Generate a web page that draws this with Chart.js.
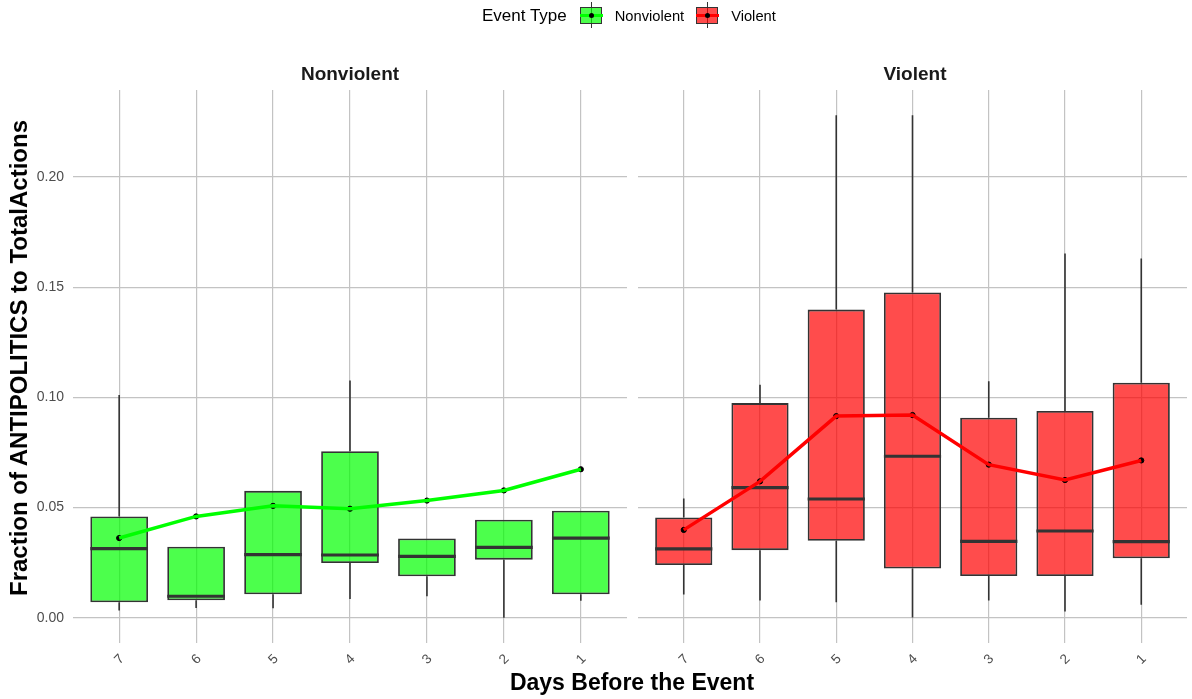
<!DOCTYPE html>
<html>
<head>
<meta charset="utf-8">
<script src="https://cdn.jsdelivr.net/npm/chart.js@4/dist/chart.umd.min.js"></script>
<style>
  html, body { margin: 0; padding: 0; background: #ffffff; }
  body { width: 1192px; height: 699px; position: relative; overflow: hidden;
         font-family: "Liberation Sans", Arial, Helvetica, sans-serif; }
  canvas { position: absolute; top: 0; }
  .txt { position: absolute; white-space: nowrap; color: #000; }
  .strip { font-weight: bold; font-size: 19px; color: #1a1a1a; transform: translate(-50%, -50%); }
  .axis-title { font-weight: bold; font-size: 23px; }
  .legend { position: absolute; top: 0; height: 32px; display: flex; align-items: center; }
  .key { position: relative; width: 23px; height: 32px; }
  .key .box { position: absolute; left: 0; top: 7px; width: 20px; height: 15px; border: 1.6px solid #333; }
  .key .whisk { position: absolute; left: 10.8px; top: 2px; width: 1.4px; height: 26px; background: #333; }
  .key .med { position: absolute; left: 1px; top: 14px; width: 21px; height: 2px; background: #333; }
  .key .mline { position: absolute; left: 0; top: 13.5px; width: 23px; height: 3.5px; }
  .key .dot { position: absolute; left: 9px; top: 12.8px; width: 5px; height: 5px; border-radius: 50%; background: #000; }
</style>
</head>
<body>
<canvas id="nv" width="640" height="699" style="left:0px"></canvas>
<canvas id="vi" width="560" height="699" style="left:632px"></canvas>

<div class="legend" style="left:482px">
  <span style="font-size:17px; margin-right:13px">Event Type</span>
  <div class="key">
    <div class="whisk"></div>
    <div class="box" style="background:rgba(0,255,0,0.7)"></div>
    <div class="med"></div>
    <div class="mline" style="background:#00ff00"></div>
    <div class="dot"></div>
  </div>
  <span style="font-size:14.7px; margin-left:12px; margin-right:12px">Nonviolent</span>
  <div class="key">
    <div class="whisk"></div>
    <div class="box" style="background:rgba(255,0,0,0.7)"></div>
    <div class="med"></div>
    <div class="mline" style="background:#ff0000"></div>
    <div class="dot"></div>
  </div>
  <span style="font-size:14.7px; margin-left:12px">Violent</span>
</div>

<div class="txt strip" style="left:350px; top:74px">Nonviolent</div>
<div class="txt strip" style="left:915px; top:74px">Violent</div>
<div class="txt axis-title" style="left:632px; top:682px; transform:translate(-50%,-50%)">Days Before the Event</div>
<div class="txt axis-title" style="left:19px; top:358px; font-size:24px; transform:translate(-50%,-50%) rotate(-90deg)">Fraction of ANTIPOLITICS to TotalActions</div>

<script>
// Days before the event, in plotting order (left to right)
const days = ['7', '6', '5', '4', '3', '2', '1'];
const dayPos = [1, 2, 3, 4, 5, 6, 7];
const yTicks = [0, 0.05, 0.10, 0.15, 0.20];

// Nonviolent events: whisker ends, quartiles, median, mean
const nvLow  = [0.0033, 0.0045, 0.0044, 0.0086, 0.0098, 0.0000, 0.0078];
const nvQ1   = [0.0071, 0.0080, 0.0107, 0.0249, 0.0189, 0.0264, 0.0107];
const nvMed  = [0.0314, 0.0098, 0.0287, 0.0285, 0.0279, 0.0320, 0.0362];
const nvQ3   = [0.0460, 0.0323, 0.0576, 0.0756, 0.0360, 0.0445, 0.0486];
const nvHigh = [0.1011, 0.0323, 0.0576, 0.1076, 0.0360, 0.0445, 0.0486];
const nvMean = [0.0362, 0.0460, 0.0508, 0.0495, 0.0532, 0.0578, 0.0674];

// Violent events
const vLow  = [0.0106, 0.0079, 0.0071, 0.0002, 0.0079, 0.0029, 0.0060];
const vQ1   = [0.0240, 0.0307, 0.0350, 0.0224, 0.0190, 0.0190, 0.0270];
const vMed  = [0.0313, 0.0591, 0.0539, 0.0733, 0.0347, 0.0394, 0.0346];
const vQ3   = [0.0455, 0.0974, 0.1398, 0.1476, 0.0908, 0.0938, 0.1066];
const vHigh = [0.0541, 0.1057, 0.2280, 0.2280, 0.1073, 0.1653, 0.1630];
const vMean = [0.0399, 0.0619, 0.0915, 0.0920, 0.0695, 0.0625, 0.0714];

const GRID = '#c3c3c3';
const OUTLINE = '#333333';
const Y_MIN = -0.0114, Y_MAX = 0.2394;

// Whiskers are drawn under the boxes, medians on top of them
const boxExtras = {
  id: 'boxExtras',
  beforeDatasetDraw(chart, args, opts) {
    if (args.index !== 0) return;
    const ctx = chart.ctx, xs = chart.scales.x, ys = chart.scales.y;
    ctx.save();
    ctx.strokeStyle = OUTLINE;
    ctx.lineWidth = 1.6;
    opts.pos.forEach((p, i) => {
      const px = xs.getPixelForValue(p);
      ctx.beginPath();
      ctx.moveTo(px, ys.getPixelForValue(opts.low[i]));
      ctx.lineTo(px, ys.getPixelForValue(opts.q1[i]));
      ctx.moveTo(px, ys.getPixelForValue(opts.q3[i]));
      ctx.lineTo(px, ys.getPixelForValue(opts.high[i]));
      ctx.stroke();
    });
    ctx.restore();
  },
  afterDatasetDraw(chart, args, opts) {
    if (args.index !== 0) return;
    const ctx = chart.ctx, ys = chart.scales.y;
    const meta = chart.getDatasetMeta(0);
    ctx.save();
    ctx.strokeStyle = OUTLINE;
    ctx.lineWidth = 3.2;
    meta.data.forEach((bar, i) => {
      const { x, width } = bar.getProps(['x', 'width'], true);
      const py = ys.getPixelForValue(opts.med[i]);
      ctx.beginPath();
      ctx.moveTo(x - width / 2, py);
      ctx.lineTo(x + width / 2, py);
      ctx.stroke();
    });
    ctx.restore();
  }
};

function makePanel(canvasId, stats, fill, lineColor, showY, padding) {
  const boxes = dayPos.map((p, i) => ({ x: p, y: [stats.q1[i], stats.q3[i]] }));
  const means = dayPos.map((p, i) => ({ x: p, y: stats.mean[i] }));
  return new Chart(document.getElementById(canvasId), {
    data: {
      datasets: [
        {
          type: 'bar', data: boxes, order: 3,
          backgroundColor: fill, borderColor: OUTLINE, borderWidth: 1.8,
          borderSkipped: false, barPercentage: 0.75, categoryPercentage: 1, grouped: false
        },
        {
          type: 'line', data: means, order: 2, showLine: false,
          pointRadius: 2.6, pointBackgroundColor: '#000', pointBorderColor: '#000', pointBorderWidth: 1
        },
        {
          type: 'line', data: means, order: 1, borderColor: lineColor, borderWidth: 3.5,
          tension: 0, pointRadius: 0, fill: false
        }
      ]
    },
    options: {
      responsive: false, animation: false, devicePixelRatio: 1,
      layout: { padding },
      plugins: {
        legend: { display: false }, tooltip: { enabled: false },
        boxExtras: { pos: dayPos, low: stats.low, q1: stats.q1, med: stats.med, q3: stats.q3, high: stats.high }
      },
      scales: {
        x: {
          type: 'linear', min: 0.4, max: 7.6, offset: false,
          afterBuildTicks: s => { s.ticks = dayPos.map(v => ({ value: v })); },
          afterFit: s => { s.height = 56; },
          grid: { color: GRID, lineWidth: 1.2, drawTicks: false, offset: false },
          border: { display: false },
          ticks: {
            callback: v => days[dayPos.indexOf(v)],
            minRotation: 45, maxRotation: 45, padding: 8, labelOffset: 3,
            color: '#4d4d4d', font: { family: 'Liberation Sans', size: 13.5 }
          }
        },
        y: {
          type: 'linear', min: Y_MIN, max: Y_MAX,
          afterBuildTicks: s => { s.ticks = yTicks.map(v => ({ value: v })); },
          afterFit: s => { s.width = showY ? 73 : 0; },
          grid: { color: GRID, lineWidth: 1.2, drawTicks: false },
          border: { display: false },
          ticks: {
            display: showY, padding: 9,
            callback: v => v.toFixed(2),
            color: '#4d4d4d', font: { family: 'Liberation Sans', size: 14 }
          }
        }
      }
    },
    plugins: [boxExtras]
  });
}

makePanel('nv',
  { low: nvLow, q1: nvQ1, med: nvMed, q3: nvQ3, high: nvHigh, mean: nvMean },
  'rgba(0,255,0,0.7)', '#00ff00', true, { top: 90, right: 13, left: 0, bottom: 0 });

makePanel('vi',
  { low: vLow, q1: vQ1, med: vMed, q3: vQ3, high: vHigh, mean: vMean },
  'rgba(255,0,0,0.7)', '#ff0000', false, { top: 90, right: 0, left: 6, bottom: 0 });
</script>
</body>
</html>
